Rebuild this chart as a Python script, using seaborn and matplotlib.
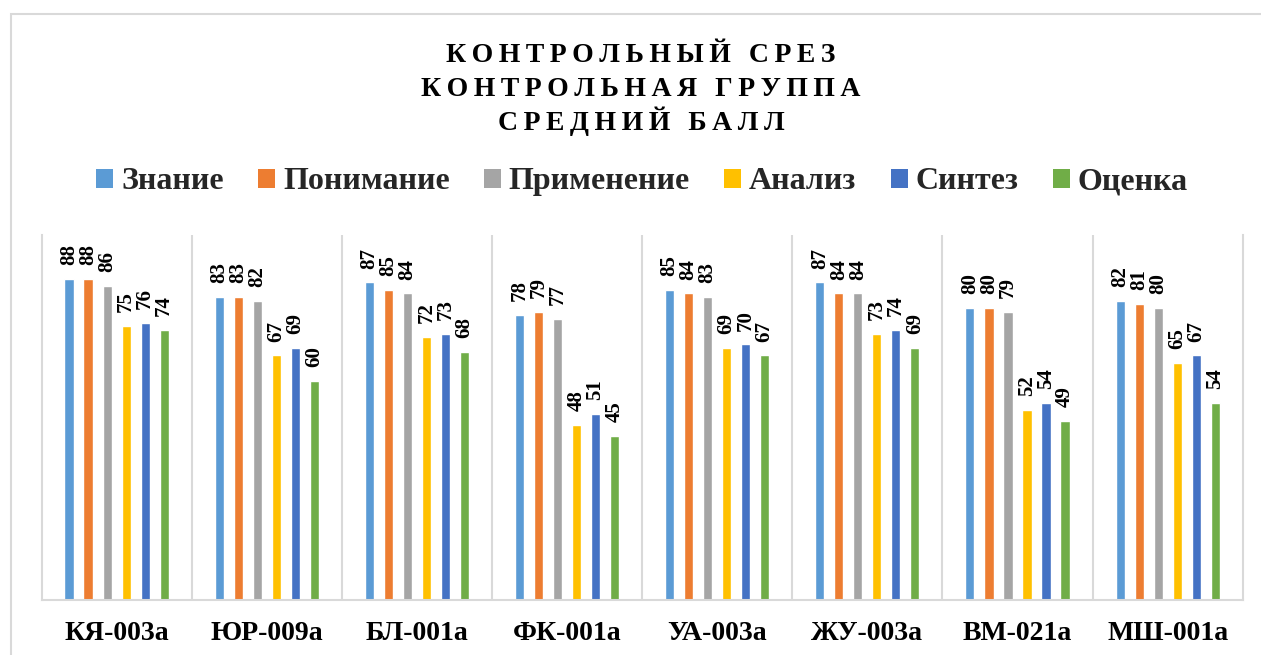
import matplotlib
matplotlib.use("Agg")
import matplotlib.pyplot as plt
from matplotlib.patches import Patch, Rectangle
import seaborn as sns
import pandas as pd

groups = ['КЯ-003а', 'ЮР-009а', 'БЛ-001а', 'ФК-001а', 'УА-003а', 'ЖУ-003а', 'ВМ-021а', 'МШ-001а']
criteria = ['Знание', 'Понимание', 'Применение', 'Анализ', 'Синтез', 'Оценка']
znanie = [88, 83, 87, 78, 85, 87, 80, 82]
ponimanie = [88, 83, 85, 79, 84, 84, 80, 81]
primenenie = [86, 82, 84, 77, 83, 84, 79, 80]
analiz = [75, 67, 72, 48, 69, 73, 52, 65]
sintez = [76, 69, 73, 51, 70, 74, 54, 67]
otsenka = [74, 60, 68, 45, 67, 69, 49, 54]
colors = ['#5B9BD5', '#ED7D31', '#A5A5A5', '#FFC000', '#4472C4', '#70AD47']
title_lines = ['КОНТРОЛЬНЫЙ СРЕЗ', 'КОНТРОЛЬНАЯ ГРУППА', 'СРЕДНИЙ БАЛЛ']

series = [znanie, ponimanie, primenenie, analiz, sintez, otsenka]
rows = []
for crit, vals in zip(criteria, series):
    for g, v in zip(groups, vals):
        rows.append({'group': g, 'criterion': crit, 'value': v})
df = pd.DataFrame(rows)

sns.set_style('white')
plt.rcParams['font.family'] = ['Liberation Serif', 'DejaVu Serif']

W, H = 1261, 655
fig = plt.figure(figsize=(W / 100, H / 100), dpi=100)
fig.patch.set_facecolor('white')
ax = fig.add_axes([41.5 / W, 1 - 600 / H, (1242.7 - 41.5) / W, 365 / H])

sns.barplot(data=df, x='group', y='value', hue='criterion', order=groups,
            hue_order=criteria, palette=colors, saturation=1, width=0.76,
            gap=0.52, legend=False, ax=ax, errorbar=None)

for cont in ax.containers:
    ax.bar_label(cont, rotation=90, padding=10, fontsize=15, fontweight='bold', color='black')

ax.set_ylim(0, 100)
ax.set_xlim(-0.5, 7.5)
ax.set_yticks([])
ax.set_xlabel('')
ax.set_ylabel('')
ax.set_xticks(range(len(groups)))
ax.set_xticklabels(groups, fontsize=20, fontweight='bold', color='black')
ax.tick_params(axis='x', length=0, pad=15)

sep = '#D9D9D9'
for k in range(1, len(groups)):
    ax.axvline(k - 0.5, color=sep, lw=1.5, zorder=0)
for s in ['left', 'right', 'bottom']:
    ax.spines[s].set_color(sep)
    ax.spines[s].set_linewidth(1.5)
ax.spines['top'].set_visible(False)

# outer chart border (left/top visible)
fig.add_artist(Rectangle((11 / W, -0.1), 1.2, (1 - 14 / H) + 0.1, transform=fig.transFigure,
                         fill=False, ec=sep, lw=1.5))

# title
ys = [61.7, 96.4, 130]
for line, y in zip(title_lines, ys):
    spaced = '\u2009'.join(line)
    fig.text(641 / W, 1 - y / H, spaced, ha='center', va='baseline',
             fontsize=20, fontweight='bold', color='black')

handles = [Patch(facecolor=c, edgecolor='none') for c in colors]
fig.legend(handles, criteria, loc='center', bbox_to_anchor=(642 / W, 1 - 182 / H),
           ncol=6, frameon=False, prop={'size': 23, 'weight': 'bold'},
           handlelength=0.53, handleheight=0.53, handletextpad=0.25,
           columnspacing=1.07, borderpad=0, borderaxespad=0)

fig.savefig('out.png', dpi=100, facecolor='white')
